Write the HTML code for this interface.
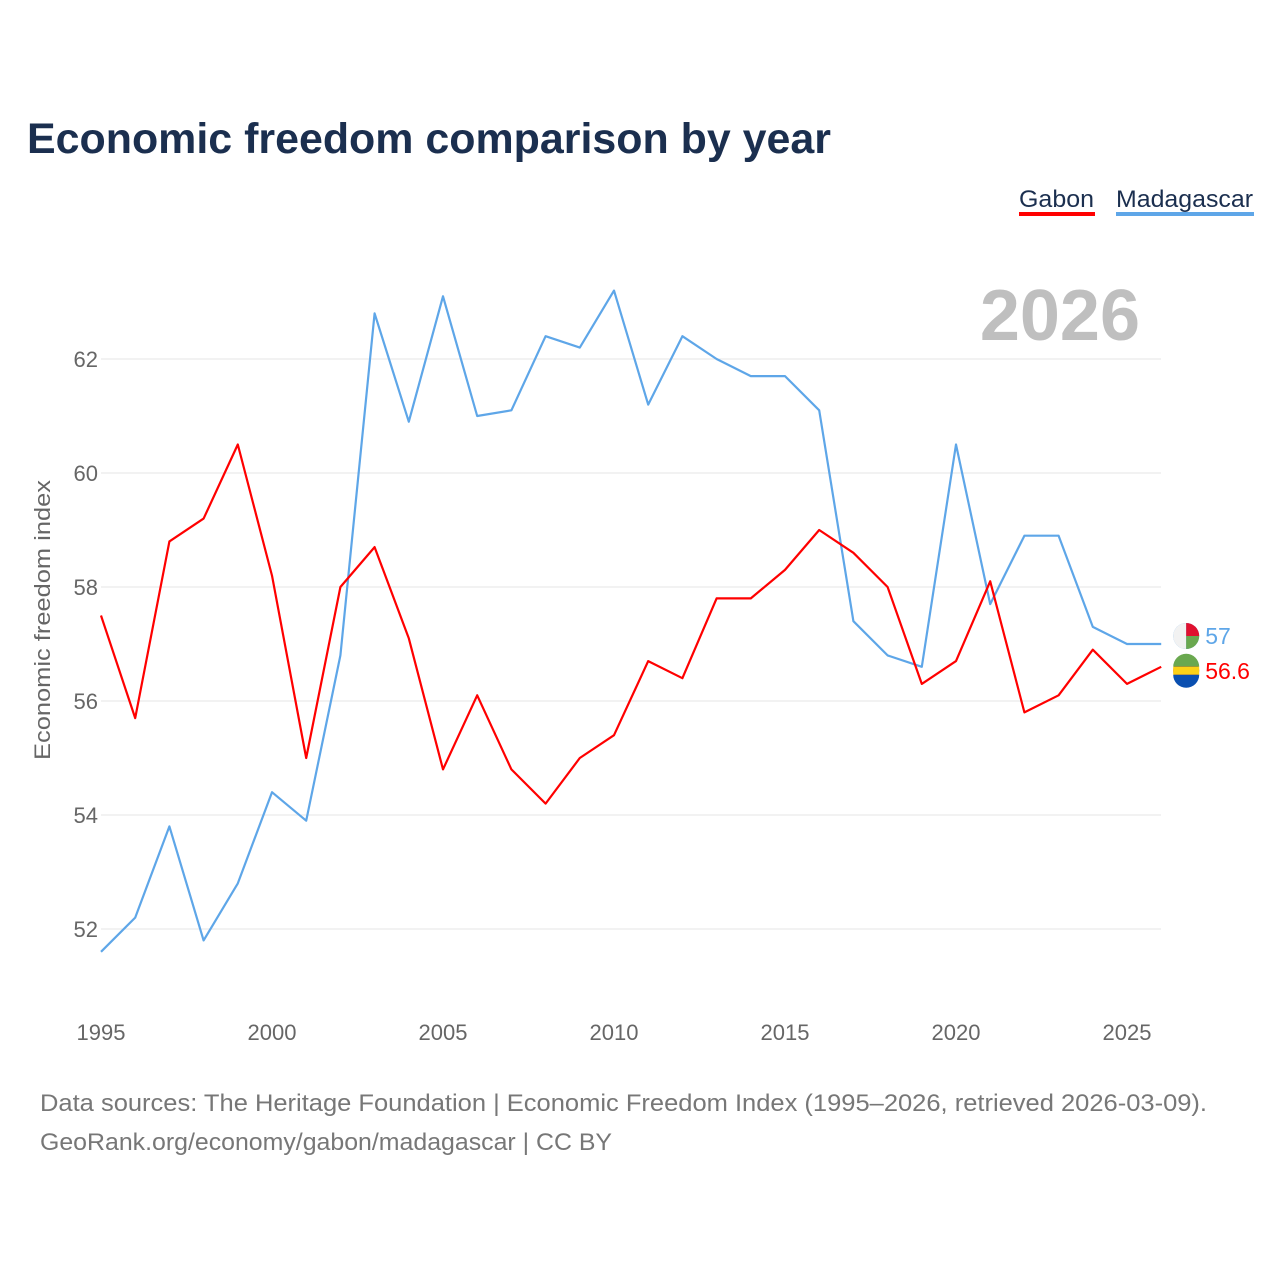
<!DOCTYPE html>
<html><head><meta charset="utf-8"><style>
body{margin:0;background:#fff;font-family:"Liberation Sans",sans-serif;}
#wrap{position:relative;width:1280px;height:1280px;overflow:hidden;}
</style></head><body>
<div id="wrap">
<svg id="chart" width="1280" height="1280" xmlns="http://www.w3.org/2000/svg">
<text x="27" y="153" font-size="43" font-weight="bold" fill="#1b2f4f" textLength="804" lengthAdjust="spacingAndGlyphs">Economic freedom comparison by year</text>
<g>
<text x="1019" y="207" font-size="24" fill="#1b2f4f" textLength="75" lengthAdjust="spacingAndGlyphs">Gabon</text>
<rect x="1019" y="212" width="76" height="4" fill="#ff0000"/>
<text x="1116" y="207" font-size="24" fill="#1b2f4f" textLength="137" lengthAdjust="spacingAndGlyphs">Madagascar</text>
<rect x="1116" y="212" width="138" height="4" fill="#5ea6e8"/>
</g>
<text x="1140" y="340" font-size="72" font-weight="bold" fill="#bfbfbf" text-anchor="end">2026</text>
<g id="grid"></g><g id="lines"></g>
<text transform="translate(50,620) rotate(-90)" font-size="22" fill="#666" text-anchor="middle" textLength="280" lengthAdjust="spacingAndGlyphs">Economic freedom index</text>
<text x="40" y="1111" font-size="24" fill="#777" textLength="1167" lengthAdjust="spacingAndGlyphs">Data sources: The Heritage Foundation | Economic Freedom Index (1995–2026, retrieved 2026-03-09).</text>
<text x="40" y="1150" font-size="24" fill="#777" textLength="572" lengthAdjust="spacingAndGlyphs">GeoRank.org/economy/gabon/madagascar | CC BY</text>
</svg>
</div>
<script>
const years=[1995,1996,1997,1998,1999,2000,2001,2002,2003,2004,2005,2006,2007,2008,2009,2010,2011,2012,2013,2014,2015,2016,2017,2018,2019,2020,2021,2022,2023,2024,2025,2026];
const gabon=[57.5,55.7,58.8,59.2,60.5,58.2,55.0,58.0,58.7,57.1,54.8,56.1,54.8,54.2,55.0,55.4,56.7,56.4,57.8,57.8,58.3,59.0,58.6,58.0,56.3,56.7,58.1,55.8,56.1,56.9,56.3,56.6];
const madagascar=[51.6,52.2,53.8,51.8,52.8,54.4,53.9,56.8,62.8,60.9,63.1,61.0,61.1,62.4,62.2,63.2,61.2,62.4,62.0,61.7,61.7,61.1,57.4,56.8,56.6,60.5,57.7,58.9,58.9,57.3,57.0,57.0];
const yTicks=[52,54,56,58,60,62];
const xTicks=[1995,2000,2005,2010,2015,2020,2025];
const NS='http://www.w3.org/2000/svg';
const X=y=>101+(y-1995)*34.2;
const Y=v=>929-(v-52)*57;
const grid=document.getElementById('grid'),lines=document.getElementById('lines');
function mk(tag,attrs,parent){const e=document.createElementNS(NS,tag);for(const k in attrs)e.setAttribute(k,attrs[k]);parent.appendChild(e);return e;}
yTicks.forEach(t=>{
 const l=mk('line',{x1:101,x2:1161,y1:Y(t),y2:Y(t),stroke:'#e6e6e6','stroke-width':1},grid);
 
 
 const tx=mk('text',{x:98,y:Y(t)+8,'font-size':22,fill:'#666','text-anchor':'end'},grid);
 tx.textContent=t;
 
 
});
xTicks.forEach(t=>{
 const tx=mk('text',{x:X(t),y:1040,'font-size':22,fill:'#666','text-anchor':'middle'},grid);
 tx.textContent=t;
 
 
});
function series(vals,color,name){
 const p=mk('polyline',{points:vals.map((v,i)=>X(years[i])+','+Y(v)).join(' '),fill:'none',stroke:color,'stroke-width':2.2,'stroke-linejoin':'round'},lines);
 
 
}
series(madagascar,'#5ea6e8','madagascar');
series(gabon,'#ff0000','gabon');
const lastX=X(years[years.length-1]);
function endLabel(v,color,name,dy){
 const cy=Y(v)+dy;
 const c=mk('circle',{cx:lastX+25,cy:cy,r:13,fill:color},lines);
 
 
 const t=mk('text',{x:lastX+44,y:cy+8,'font-size':23,fill:color},lines);
 t.textContent=v;
 
 
 return cy;
}
const mcy=endLabel(madagascar[madagascar.length-1],'#5ea6e8','madagascar',-8);
const gcy=endLabel(gabon[gabon.length-1],'#ff0000','gabon',4);
mk('path',{d:`M${lastX+12},${mcy} a13,13 0 0 1 13,-13 v26 a13,13 0 0 1 -13,-13z`,fill:'#f2f2f2'},lines);
mk('path',{d:`M${lastX+25},${mcy-13} a13,13 0 0 1 13,13 h-13z`,fill:'#e0102f'},lines);
mk('path',{d:`M${lastX+25},${mcy} h13 a13,13 0 0 1 -13,13z`,fill:'#6aa84f'},lines);
mk('path',{d:`M${lastX+12},${gcy-4} a13,13 0 0 1 26,0z`,fill:'#6aa84f'},lines);
mk('rect',{x:lastX+12,y:gcy-4,width:26,height:8,fill:'#fcd116'},lines);
mk('path',{d:`M${lastX+12},${gcy+4} h26 a13,13 0 0 1 -26,0z`,fill:'#0a4fb0'},lines);
</script>
</body></html>
